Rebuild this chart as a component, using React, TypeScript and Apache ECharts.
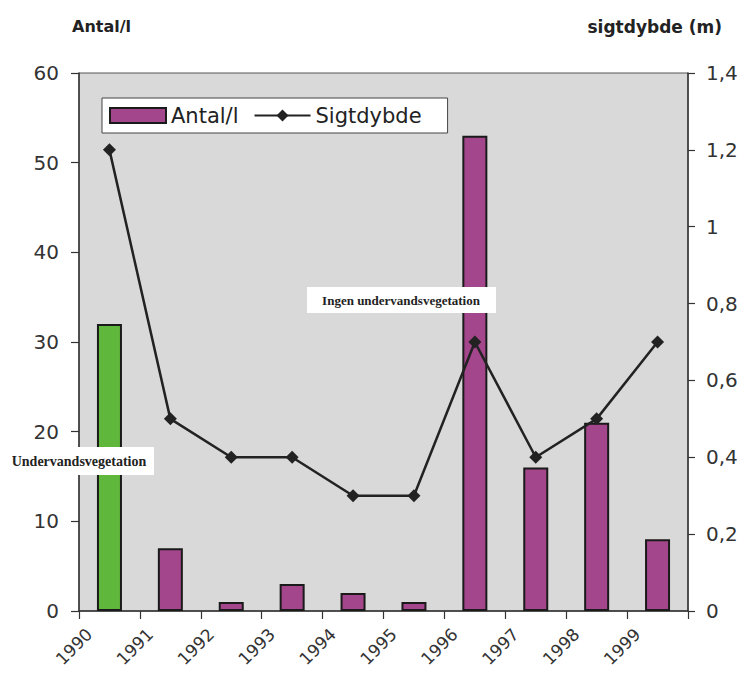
import React, { useEffect, useRef } from "react";
import * as echarts from "echarts";

const years = ["1990", "1991", "1992", "1993", "1994", "1995", "1996", "1997", "1998", "1999"];
const antal = [32, 7, 1, 3, 2, 1, 53, 16, 21, 8];
const sigtdybde = [1.2, 0.5, 0.4, 0.4, 0.3, 0.3, 0.7, 0.4, 0.5, 0.7];
const vegetationYears = ["1990"];

const PURPLE = "#a4468b";
const GREEN = "#5fb83b";
const FONT = "DejaVu Sans";

export default function App() {
  const ref = useRef<HTMLDivElement>(null);
  useEffect(() => {
    if (!ref.current) return;
    const chart = echarts.init(ref.current, undefined, { renderer: "svg" });
    const barData = antal.map((v, i) => ({
      value: [i + 0.5, v],
      itemStyle: { color: vegetationYears.includes(years[i]) ? GREEN : PURPLE },
    }));
    const lineData = sigtdybde.map((v, i) => [i + 0.5, v]);
    chart.setOption({
      animation: false,
      backgroundColor: "#ffffff",
      grid: {
        left: 79,
        right: 57,
        top: 73,
        bottom: 66,
        outerBoundsMode: "none",
        containLabel: false,
        show: true,
        backgroundColor: "#d9d9d9",
        borderColor: "#555",
        borderWidth: 1,
      },
      legend: {
        left: 102,
        top: 98,
        selectedMode: false,
        backgroundColor: "#ffffff",
        borderColor: "#444",
        borderWidth: 1,
        padding: [7, 26, 7, 7],
        itemWidth: 56,
        itemHeight: 15,
        itemGap: 15,
        textStyle: { fontFamily: FONT, fontSize: 21, color: "#222" },
        data: [
          { name: "Antal/l", icon: "rect", itemStyle: { color: PURPLE, borderColor: "#1a1a1a", borderWidth: 2 } },
          { name: "Sigtdybde" },
        ],
      },
      xAxis: {
        type: "value",
        min: 0,
        max: 10,
        interval: 1,
        axisLine: { show: true, lineStyle: { color: "#333", width: 1.5 } },
        axisTick: { show: true, length: 8, lineStyle: { color: "#333", width: 1.2 } },
        splitLine: { show: false },
        axisLabel: {
          rotate: 45,
          margin: 10,
          verticalAlign: "top",
          padding: [6, 0, 0, 0],
          fontFamily: FONT,
          fontSize: 17,
          color: "#333",
          showMaxLabel: true,
          formatter: (v: number) => (v < years.length ? years[v] : ""),
        },
      },
      yAxis: [
        {
          type: "value",
          min: 0,
          max: 60,
          interval: 10,
          position: "left",
          axisLine: { show: true, lineStyle: { color: "#333", width: 1.5 } },
          axisTick: { show: true, length: 8, lineStyle: { color: "#333", width: 1.2 } },
          splitLine: { show: false },
          axisLabel: { margin: 20, fontFamily: FONT, fontSize: 20, color: "#333" },
        },
        {
          type: "value",
          min: 0,
          max: 1.4,
          interval: 0.2,
          position: "right",
          axisLine: { show: true, lineStyle: { color: "#333", width: 1.5 } },
          axisTick: { show: true, length: 7, lineStyle: { color: "#333", width: 1.2 } },
          splitLine: { show: false },
          axisLabel: {
            margin: 18,
            fontFamily: FONT,
            fontSize: 20,
            color: "#333",
            formatter: (v: number) => String(Math.round(v * 10) / 10).replace(".", ","),
          },
        },
      ],
      series: [
        {
          name: "Antal/l",
          type: "bar",
          yAxisIndex: 0,
          barWidth: 25,
          itemStyle: { color: PURPLE, borderColor: "#1a1a1a", borderWidth: 2 },
          data: barData,
        },
        {
          name: "Sigtdybde",
          type: "line",
          yAxisIndex: 1,
          symbol: "diamond",
          symbolSize: 13,
          itemStyle: { color: "#222" },
          lineStyle: { color: "#222", width: 2.5 },
          data: lineData,
        },
      ],
      graphic: [
        {
          type: "text",
          left: 72,
          top: 18,
          style: { text: "Antal/l", fontFamily: FONT, fontWeight: "bold", fontSize: 16, fill: "#222" },
        },
        {
          type: "text",
          right: 23,
          top: 18,
          style: { text: "sigtdybde (m)", fontFamily: FONT, fontWeight: "bold", fontSize: 17, fill: "#222" },
        },
        {
          type: "group",
          z: 100,
          children: [
            { type: "rect", shape: { x: 307, y: 287, width: 189, height: 26 }, style: { fill: "#fff" }, z: 100 },
            {
              type: "text",
              x: 401,
              y: 300,
              z: 101,
              style: {
                text: "Ingen undervandsvegetation",
                fontFamily: "Liberation Serif",
                fontWeight: "bold",
                fontSize: 13,
                fill: "#222",
                align: "center",
                verticalAlign: "middle",
              },
            },
            { type: "rect", shape: { x: 5, y: 447, width: 149, height: 28 }, style: { fill: "#fff" }, z: 100 },
            {
              type: "text",
              x: 79,
              y: 461,
              z: 101,
              style: {
                text: "Undervandsvegetation",
                fontFamily: "Liberation Serif",
                fontWeight: "bold",
                fontSize: 14,
                fill: "#222",
                align: "center",
                verticalAlign: "middle",
              },
            },
          ],
        },
      ],
    });
    return () => chart.dispose();
  }, []);
  return <div ref={ref} style={{ width: 745, height: 677, margin: -8 }} />;
}
